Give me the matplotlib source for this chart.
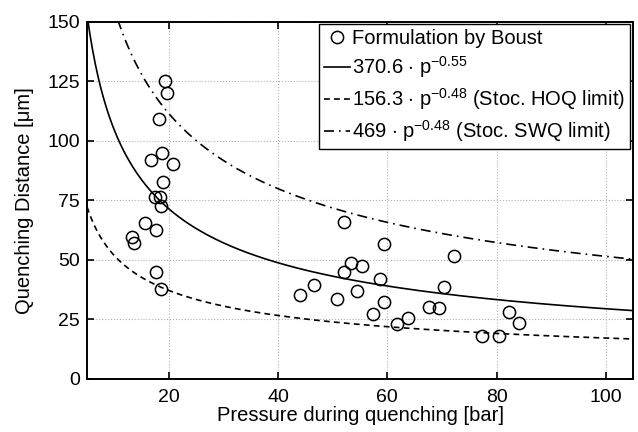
import numpy as np
import matplotlib.pyplot as plt

plt.rcParams['font.family'] = ['Liberation Sans', 'DejaVu Sans']
plt.rcParams['mathtext.fontset'] = 'custom'
plt.rcParams['mathtext.rm'] = 'Liberation Sans'
plt.rcParams['mathtext.it'] = 'Liberation Sans'

# measured points (Boust formulation)
pressure = [19.2, 19.6, 18.2, 18.8, 16.7, 20.8, 18.9, 17.5, 18.4, 18.5, 15.7, 17.6, 13.3, 13.6, 17.7, 18.6,
            44.0, 46.6, 50.8, 52.1, 52.1, 53.3, 55.3, 54.4, 58.7, 59.4, 59.4, 57.4, 61.7, 63.8, 67.7, 69.4,
            70.3, 72.3, 77.3, 80.4, 82.2, 84.2]
distance = [125, 120, 109, 95, 92, 90.3, 82.5, 76.5, 76.5, 72.6, 65.4, 62.4, 59.6, 57.1, 45.0, 37.7,
            35.4, 39.3, 33.7, 66.0, 44.7, 48.8, 47.2, 37.0, 42.0, 56.6, 32.2, 27.1, 23.2, 25.4, 30.1, 29.6,
            38.5, 51.4, 17.8, 17.8, 27.9, 23.3]

# fitted curves a * p^b
coef = [370.6, 156.3, 469]
expo = [-0.55, -0.48, -0.48]
labels = ['370.6 $\\cdot$ p$^{-0.55}$',
          '156.3 $\\cdot$ p$^{-0.48}$ (Stoc. HOQ limit)',
          '469 $\\cdot$ p$^{-0.48}$ (Stoc. SWQ limit)']
styles = ['-', (0, (3.5, 2.5)), (0, (6, 3, 1, 3))]

fig = plt.figure(figsize=(6.38, 4.32), dpi=100)
ax = fig.add_axes([0.1364, 0.123, 0.8558, 0.827])

ax.plot(pressure, distance, 'o', mfc='none', mec='black', ms=8.8, mew=1.1,
        label='Formulation by Boust', zorder=3)
p = np.linspace(5, 105, 400)
for a, b, lab, ls in zip(coef, expo, labels, styles):
    ax.plot(p, a * p ** b, color='black', ls=ls, lw=1.2, label=lab)

ax.set_xlim(5, 105)
ax.set_ylim(0, 150)
ax.set_xticks([20, 40, 60, 80, 100])
ax.set_yticks([0, 25, 50, 75, 100, 125, 150])
ax.grid(True, ls=':', color='#b0b0b0', lw=0.8)
ax.tick_params(direction='in', top=True, right=True, labelsize=14, length=5, width=1.2, pad=5)
ax.tick_params(axis='x', pad=7)
for s in ax.spines.values():
    s.set_linewidth(1.4)
ax.set_xlabel('Pressure during quenching [bar]', fontsize=14.5, labelpad=0)
ax.set_ylabel('Quenching Distance [μm]', fontsize=14.5, labelpad=10)

leg = ax.legend(loc='upper right', bbox_to_anchor=(0.9945, 0.992), borderaxespad=0,
                fontsize=14.5, handlelength=1.3, handletextpad=0.1, labelspacing=0.3,
                borderpad=0.25, fancybox=False, framealpha=1, edgecolor='black')
leg.get_frame().set_linewidth(1.0)

fig.savefig('out.png', dpi=100)
